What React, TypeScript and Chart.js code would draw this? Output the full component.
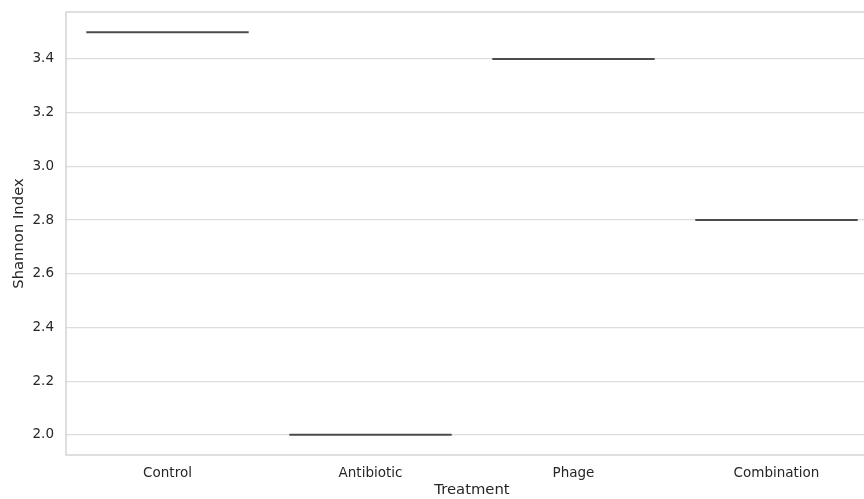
import React, { useEffect, useRef } from "react";
import { Chart, registerables } from "chart.js";

Chart.register(...registerables);

const categories = ["Control", "Antibiotic", "Phage", "Combination"];
const shannonValues = [3.5, 2.0, 3.4, 2.8];
const yTickValues = [2.0, 2.2, 2.4, 2.6, 2.8, 3.0, 3.2, 3.4];
const yMin = 1.925;
const yMax = 3.575;
const boxHalfWidth = 0.4;

const framePlugin = {
  id: "frame",
  afterDraw(chart: any) {
    const { ctx, chartArea } = chart;
    ctx.save();
    ctx.strokeStyle = "#cccccc";
    ctx.lineWidth = 1.25;
    ctx.strokeRect(chartArea.left, chartArea.top, chartArea.right - chartArea.left, chartArea.bottom - chartArea.top);
    ctx.restore();
  },
};

export default function App() {
  const ref = useRef<HTMLCanvasElement | null>(null);
  useEffect(() => {
    if (!ref.current) return;
    const datasets = categories.map((c, i) => ({
      label: c,
      data: [
        { x: i - boxHalfWidth, y: shannonValues[i] },
        { x: i + boxHalfWidth, y: shannonValues[i] },
      ],
      borderColor: "#4c4c4c",
      borderWidth: 2,
      pointRadius: 0,
      showLine: true,
      fill: false,
    }));
    const chart = new Chart(ref.current, {
      type: "scatter",
      data: { datasets },
      plugins: [framePlugin],
      options: {
        animation: false,
        responsive: false,
        layout: { padding: { top: 12, right: 2, left: 0, bottom: 0 } },
        plugins: { legend: { display: false }, tooltip: { enabled: false } },
        scales: {
          x: {
            type: "linear",
            min: -0.5,
            max: 3.5,
            afterBuildTicks: (axis: any) => {
              axis.ticks = categories.map((_, i) => ({ value: i }));
            },
            afterFit: (axis: any) => {
              axis.height = 44;
              axis.paddingLeft = 0;
              axis.paddingRight = 0;
            },
            ticks: {
              callback: (v: any) => categories[v] ?? "",
              color: "#262626",
              font: { family: "DejaVu Sans", size: 13.5 },
              padding: 10,
              maxRotation: 0,
            },
            grid: { display: false, drawTicks: false },
            border: { display: false },
            title: {
              display: true,
              text: "Treatment",
              color: "#262626",
              font: { family: "DejaVu Sans", size: 14.8 },
              padding: { top: 4, bottom: 0 },
            },
          },
          y: {
            min: yMin,
            max: yMax,
            afterBuildTicks: (axis: any) => {
              axis.ticks = yTickValues.map((v) => ({ value: v }));
            },
            afterFit: (axis: any) => {
              axis.width = 66;
              axis.paddingTop = 0;
              axis.paddingBottom = 0;
            },
            ticks: {
              callback: (v: any) => Number(v).toFixed(1),
              color: "#262626",
              font: { family: "DejaVu Sans", size: 13.5 },
              padding: 12,
            },
            grid: { color: "#dddddd", lineWidth: 1.25, drawTicks: false },
            border: { display: false },
            title: {
              display: true,
              text: "Shannon Index",
              color: "#262626",
              font: { family: "DejaVu Sans", size: 14.8 },
              padding: { top: 10, bottom: 0 },
            },
          },
        },
      },
    });
    return () => chart.destroy();
  }, []);
  return (
    <div style={{ position: "fixed", left: 0, top: 0, width: 864, height: 499, overflow: "hidden", background: "#fff" }}>
      <canvas ref={ref} width={880} height={499} style={{ display: "block" }} />
    </div>
  );
}
